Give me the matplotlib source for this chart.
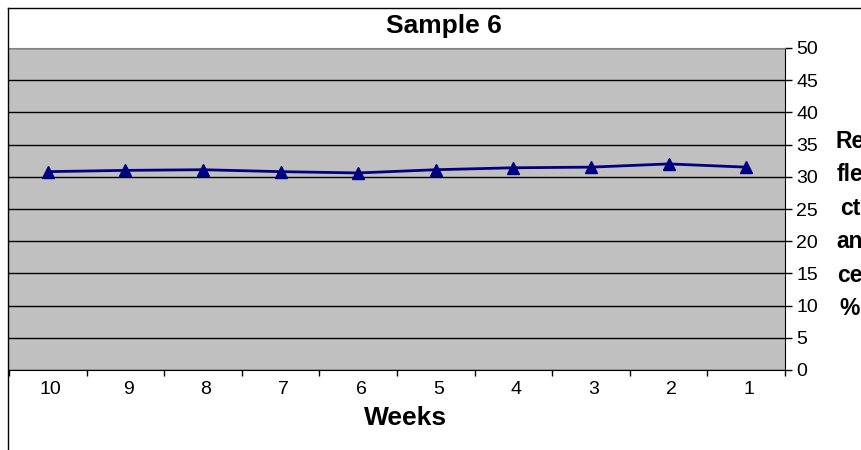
import numpy as np
import matplotlib.pyplot as plt
from matplotlib.lines import Line2D
from matplotlib.transforms import ScaledTranslation

plt.rcParams['font.family'] = ['Liberation Sans', 'DejaVu Sans']

weeks = ['10', '9', '8', '7', '6', '5', '4', '3', '2', '1']
reflectance = [30.8, 31.0, 31.1, 30.8, 30.6, 31.1, 31.4, 31.5, 32.0, 31.5]
y_ticks = list(range(0, 51, 5))

fig = plt.figure(figsize=(8.61, 4.5), dpi=100)
fig.patch.set_facecolor('white')

# outer chart border (only top and left visible, rest clipped)
W, H = 861.0, 450.0
fig.add_artist(Line2D([8 / W, 8 / W], [0, 1 - 8 / H], color='black', lw=1.0, transform=fig.transFigure))
fig.add_artist(Line2D([8 / W, 1], [1 - 8 / H, 1 - 8 / H], color='black', lw=1.0, transform=fig.transFigure))

ax = fig.add_axes([9 / W, 1 - 370 / H, (785 - 9) / W, (370 - 48) / H])
ax.set_facecolor('#c0c0c0')

x = np.arange(len(weeks))
ax.plot(x, reflectance, color='#000080', lw=2, marker='^', markersize=8, zorder=3)

ax.set_xlim(-0.5, len(weeks) - 0.5)
ax.set_ylim(0, 50)
ax.set_yticks(y_ticks)
ax.yaxis.tick_right()
ax.tick_params(axis='y', direction='out', length=5, width=1, labelsize=14, pad=3)
ax.grid(axis='y', color='black', lw=1)
ax.set_axisbelow(True)

ax.set_xticks(x)
ax.set_xticklabels(weeks)
ax.set_xticks(np.arange(-0.5, len(weeks), 1), minor=True)
ax.tick_params(axis='x', which='major', length=0, labelsize=14, pad=8)
ax.tick_params(axis='x', which='minor', length=4, width=1, direction='out')
shift = ScaledTranslation(3 / 100, 0, fig.dpi_scale_trans)
for lab in ax.get_xticklabels():
    lab.set_transform(lab.get_transform() + shift)

ax.spines['top'].set_color('#808080')
ax.spines['left'].set_visible(False)
ax.spines['right'].set_color('black')
ax.spines['bottom'].set_color('black')

fig.text(444 / W, 1 - 26 / H, 'Sample 6', ha='center', va='center', fontsize=19, fontweight='bold')
fig.text(406 / W, 1 - 418 / H, 'Weeks', ha='center', va='center', fontsize=19, fontweight='bold')
fig.text(850 / W, 1 - 225 / H, 'Re\nfle\nct\nan\nce\n%', ha='center', va='center',
         multialignment='center', fontsize=16.5, fontweight='bold', linespacing=1.58)

fig.savefig('out.png', dpi=100)
